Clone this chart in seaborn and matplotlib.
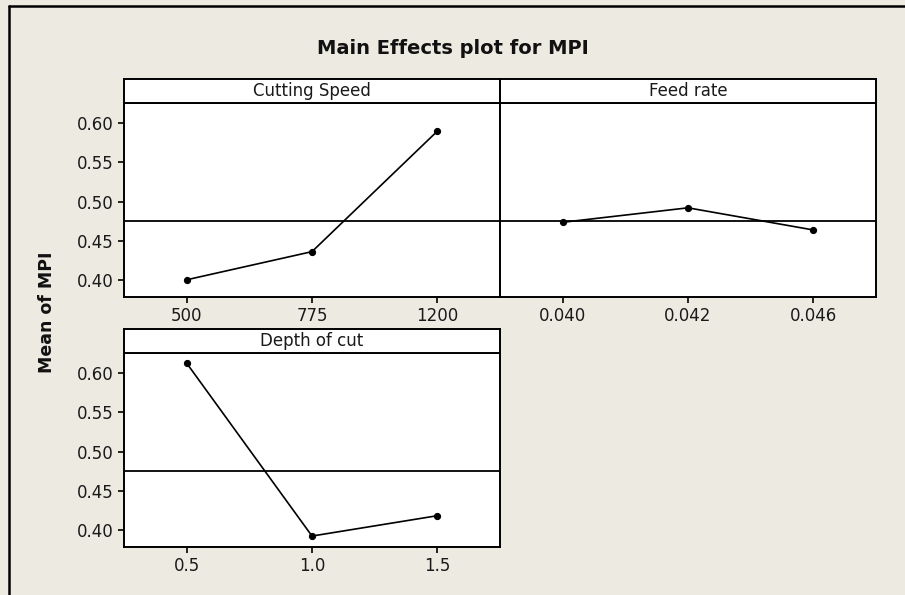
import numpy as np
import pandas as pd
import seaborn as sns
import matplotlib
matplotlib.use("Agg")
import matplotlib.pyplot as plt
from matplotlib.lines import Line2D

# ---- data ----
factors = ["Cutting Speed", "Feed rate", "Depth of cut"]
speed_levels = ["500", "775", "1200"]
speed_means = [0.400, 0.436, 0.590]
feed_levels = ["0.040", "0.042", "0.046"]
feed_means = [0.4735, 0.492, 0.4637]
depth_levels = ["0.5", "1.0", "1.5"]
depth_means = [0.613, 0.392, 0.418]
y_ticks = [0.40, 0.45, 0.50, 0.55, 0.60]
title = "Main Effects plot for MPI"
ylabel = "Mean of MPI"

levels = [speed_levels, feed_levels, depth_levels]
means = [speed_means, feed_means, depth_means]
grand_mean = np.mean(speed_means + feed_means + depth_means)

sns.set_theme(style="white")
plt.rcParams["font.family"] = ["DejaVu Sans"]

BG = "#EDEAE2"
W, H = 905, 595
fig = plt.figure(figsize=(W / 100, H / 100), dpi=100, facecolor=BG)


def box(x0, y0, x1, y1):
    return [x0 / W, 1 - y1 / H, (x1 - x0) / W, (y1 - y0) / H]


# panel pixel boxes: (x0, x1, strip_top, strip_bottom, y_bottom)
panels = [
    (124, 500, 79, 103, 297),
    (500, 876, 79, 103, 297),
    (124, 500, 329, 353, 547),
]

for i, (x0, x1, st, sb, yb) in enumerate(panels):
    ax = fig.add_axes(box(x0, sb, x1, yb))
    df = pd.DataFrame({"level": levels[i], "mean": means[i]})
    sns.pointplot(data=df, x="level", y="mean", ax=ax, color="black",
                  markersize=4.3, linewidth=1.2, errorbar=None)
    ax.axhline(grand_mean, color="black", lw=1.3, zorder=0)
    ax.set_xlim(-0.5, 2.5)
    ax.set_ylim(0.378, 0.626)
    ax.set_facecolor("white")
    for s in ax.spines.values():
        s.set_color("black")
        s.set_linewidth(1.4)
    ax.set_xlabel("")
    ax.set_ylabel("")
    ax.tick_params(axis="both", which="both", length=4.5, width=1.2, color="black",
                   labelsize=12, pad=3, direction="out", bottom=True, left=True)
    ax.set_yticks(y_ticks)
    if i == 1:
        ax.tick_params(axis="y", left=False, labelleft=False)
    else:
        ax.set_yticklabels([f"{v:.2f}" for v in y_ticks])
    for lab in ax.get_xticklabels() + ax.get_yticklabels():
        lab.set_color("#1a1a1a")

    sax = fig.add_axes(box(x0, st, x1, sb))
    sax.set_facecolor("white")
    sax.set_xticks([])
    sax.set_yticks([])
    for s in sax.spines.values():
        s.set_color("black")
        s.set_linewidth(1.4)
    sax.text(0.5, 0.48, factors[i], ha="center", va="center", fontsize=12,
             color="#1a1a1a", transform=sax.transAxes)

fig.text(453 / W, 1 - 48 / H, title, ha="center", va="center",
         fontsize=14, fontweight="bold", color="#111111")
fig.text(47 / W, 1 - 312 / H, ylabel, ha="center", va="center",
         rotation=90, fontsize=12.5, fontweight="bold", color="#111111")

# outer frame lines (top and left)
fig.add_artist(Line2D([9 / W, 9 / W], [0, 1 - 6 / H], transform=fig.transFigure,
                      color="black", lw=1.8))
fig.add_artist(Line2D([9 / W, 1], [1 - 6 / H, 1 - 6 / H], transform=fig.transFigure,
                      color="black", lw=1.8))

fig.savefig("out.png", dpi=100, facecolor=BG)
